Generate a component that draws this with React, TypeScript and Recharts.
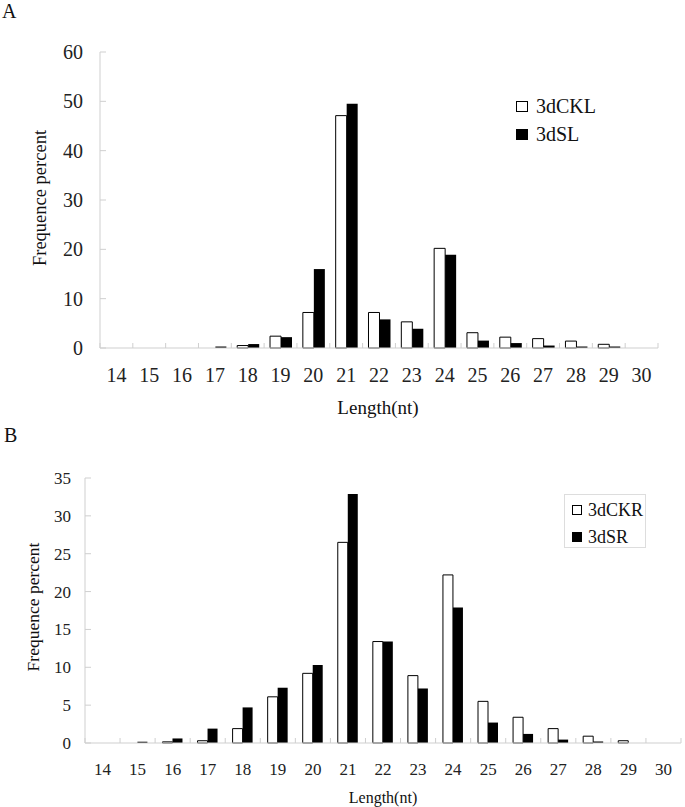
import React from 'react';
import { BarChart, Bar, XAxis, YAxis } from 'recharts';

const lengths = ['14', '15', '16', '17', '18', '19', '20', '21', '22', '23', '24', '25', '26', '27', '28', '29', '30'];
const ckl = [0, 0, 0, 0, 0.5, 2.4, 7.2, 47.1, 7.2, 5.3, 20.2, 3.1, 2.2, 1.9, 1.4, 0.75, 0];
const sl = [0, 0, 0, 0.3, 0.8, 2.2, 16.0, 49.5, 5.8, 3.9, 18.9, 1.5, 1.0, 0.5, 0.3, 0.3, 0];
const ckr = [0, 0, 0.15, 0.3, 1.9, 6.1, 9.2, 26.5, 13.4, 8.9, 22.2, 5.5, 3.4, 1.9, 0.9, 0.3, 0];
const sr = [0, 0.17, 0.6, 1.9, 4.7, 7.3, 10.3, 32.9, 13.4, 7.2, 17.9, 2.7, 1.2, 0.45, 0.2, 0, 0];
const ticksA = [0, 10, 20, 30, 40, 50, 60];
const ticksB = [0, 5, 10, 15, 20, 25, 30, 35];

const dataA = lengths.map((l, i) => ({ len: l, ckl: ckl[i], sl: sl[i] }));
const dataB = lengths.map((l, i) => ({ len: l, ckr: ckr[i], sr: sr[i] }));

const AXIS = '#cfcfcf';
const FONT = 'Liberation Serif, DejaVu Serif, serif';

const makeXTick = (band: number, dy: number, fontSize: number) => (props: any) => {
  const { x, y, payload } = props;
  const last = payload.value === lengths[lengths.length - 1];
  return (
    <g>
      <line x1={x - band / 2} x2={x - band / 2} y1={y} y2={y - 5} stroke={AXIS} />
      {last && <line x1={x + band / 2} x2={x + band / 2} y1={y} y2={y - 5} stroke={AXIS} />}
      <text x={x} y={y + dy} textAnchor="middle" fontSize={fontSize} fill="#222" style={{ fontFamily: FONT }}>
        {payload.value}
      </text>
    </g>
  );
};

const makeYTick = (margin: number, fontSize: number) => (props: any) => {
  const { x, y, payload } = props;
  return (
    <g>
      <line x1={x + margin} x2={x + margin + 6} y1={y} y2={y} stroke={AXIS} />
      <text x={x} y={y} dy="0.35em" textAnchor="end" fontSize={fontSize} fill="#222" style={{ fontFamily: FONT }}>
        {payload.value}
      </text>
    </g>
  );
};

const abs = (left: number, top: number, extra: any = {}) => ({ position: 'absolute' as const, left, top, lineHeight: 1, ...extra });

const Swatch = ({ filled, w, h }: { filled: boolean; w: number; h: number }) => (
  <div style={{ width: w, height: h, boxSizing: 'border-box', border: '1px solid #000', background: filled ? '#000' : '#fff' }} />
);

export default function App() {
  return (
    <div style={{ position: 'absolute', left: 0, top: 0, width: 685, height: 807, background: '#fff', fontFamily: FONT, color: '#111' }}>
      {/* Panel A */}
      <div style={abs(2, 1, { fontSize: 20 })}>A</div>
      <div style={abs(0, 0)}>
        <BarChart width={685} height={400} data={dataA} margin={{ top: 52, right: 27, bottom: 0, left: 0 }} barCategoryGap="18%" barGap={0}>
          <XAxis dataKey="len" interval={0} height={52} tickSize={0} tickMargin={0} axisLine={{ stroke: AXIS }} tickLine={false} tick={makeXTick(558 / 17, 34, 20)} />
          <YAxis width={100} domain={[0, 60]} ticks={ticksA} interval={0} tickSize={0} tickMargin={17} axisLine={{ stroke: AXIS }} tickLine={false} tick={makeYTick(17, 20)} />
          <Bar dataKey="ckl" fill="#fff" stroke="#000" strokeWidth={1} isAnimationActive={false} />
          <Bar dataKey="sl" fill="#000" isAnimationActive={false} />
        </BarChart>
      </div>
      <div style={abs(40, 198, { transform: 'translate(-50%, -50%) rotate(-90deg)', fontSize: 18.5, whiteSpace: 'nowrap' })}>Frequence percent</div>
      <div style={abs(378, 407, { transform: 'translate(-50%, -50%)', fontSize: 19, whiteSpace: 'nowrap' })}>Length(nt)</div>
      <div style={abs(516, 101)}><Swatch filled={false} w={12} h={11} /></div>
      <div style={abs(536, 106, { transform: 'translateY(-50%)', fontSize: 20, whiteSpace: 'nowrap' })}>3dCKL</div>
      <div style={abs(516, 129)}><Swatch filled={true} w={12} h={11} /></div>
      <div style={abs(536, 134, { transform: 'translateY(-50%)', fontSize: 20, whiteSpace: 'nowrap' })}>3dSL</div>

      {/* Panel B */}
      <div style={abs(4, 425, { fontSize: 20 })}>B</div>
      <div style={abs(0, 430)}>
        <BarChart width={685} height={377} data={dataB} margin={{ top: 48, right: 4, bottom: 0, left: 0 }} barCategoryGap="21%" barGap={0}>
          <XAxis dataKey="len" interval={0} height={64} tickSize={0} tickMargin={0} axisLine={{ stroke: AXIS }} tickLine={false} tick={makeXTick(596 / 17, 32, 17)} />
          <YAxis width={85} domain={[0, 35]} ticks={ticksB} interval={0} tickSize={0} tickMargin={14} axisLine={{ stroke: AXIS }} tickLine={false} tick={makeYTick(14, 17)} />
          <Bar dataKey="ckr" fill="#fff" stroke="#000" strokeWidth={1} isAnimationActive={false} />
          <Bar dataKey="sr" fill="#000" isAnimationActive={false} />
        </BarChart>
      </div>
      <div style={abs(34, 607, { transform: 'translate(-50%, -50%) rotate(-90deg)', fontSize: 17.5, whiteSpace: 'nowrap' })}>Frequence percent</div>
      <div style={abs(383, 798, { transform: 'translate(-50%, -50%)', fontSize: 16, whiteSpace: 'nowrap' })}>Length(nt)</div>
      <div style={abs(564, 494, { width: 82, height: 54, boxSizing: 'border-box', border: '1px solid #ddd' })} />
      <div style={abs(572, 505)}><Swatch filled={false} w={10} h={10} /></div>
      <div style={abs(588, 510, { transform: 'translateY(-50%)', fontSize: 18, whiteSpace: 'nowrap' })}>3dCKR</div>
      <div style={abs(572, 532)}><Swatch filled={true} w={10} h={10} /></div>
      <div style={abs(588, 537, { transform: 'translateY(-50%)', fontSize: 18, whiteSpace: 'nowrap' })}>3dSR</div>
    </div>
  );
}
